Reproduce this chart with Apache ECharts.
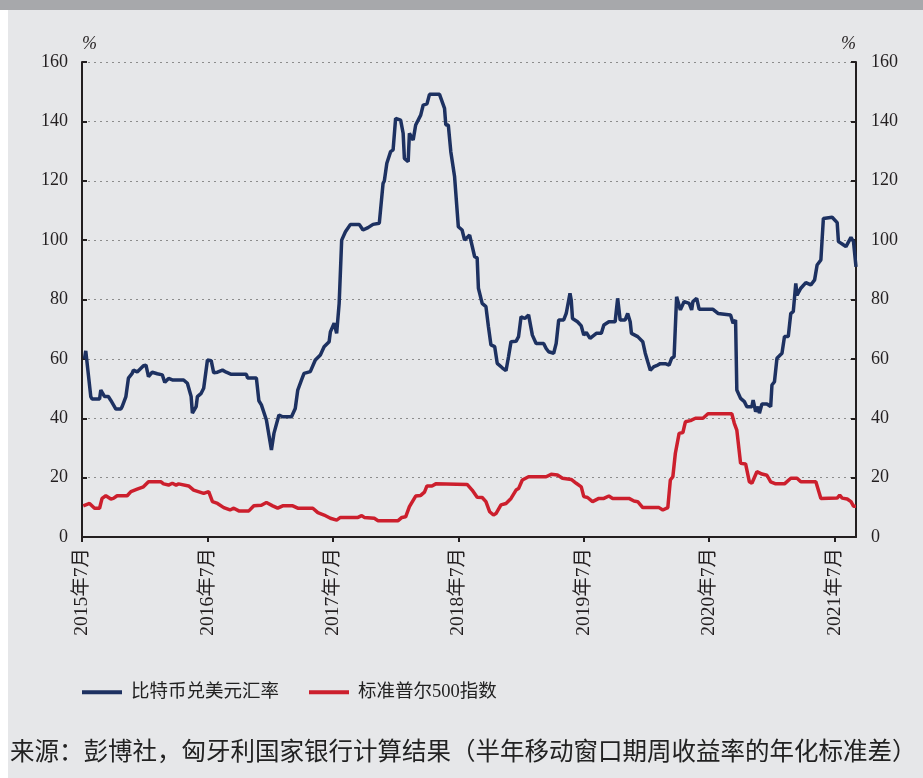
<!DOCTYPE html>
<html>
<head>
<meta charset="utf-8">
<script src="https://cdn.jsdelivr.net/npm/echarts@6/dist/echarts.min.js"></script>
<style>
  html, body { margin: 0; padding: 0; background: #fff; }
  #chart { width: 923px; height: 778px; }
</style>
</head>
<body>
<div id="chart"></div>
<script>
// x values: years after 2015年7月
var btcT = [0.02, 0.03, 0.07, 0.08, 0.14, 0.15, 0.18, 0.21, 0.23, 0.27, 0.31, 0.32, 0.35, 0.37, 0.40, 0.41, 0.44, 0.49, 0.51, 0.53,
    0.56, 0.60, 0.64, 0.66, 0.69, 0.72, 0.81, 0.84, 0.87, 0.88, 0.91, 0.92, 0.95, 0.97, 1.00, 1.03, 1.05, 1.08, 1.12, 1.15,
    1.19, 1.31, 1.32, 1.39, 1.41, 1.43, 1.47, 1.51, 1.53, 1.57, 1.60, 1.67, 1.70, 1.72, 1.75, 1.77, 1.82, 1.86, 1.90, 1.93,
    1.97, 1.98, 2.01, 2.03, 2.05, 2.07, 2.10, 2.14, 2.21, 2.24, 2.28, 2.32, 2.37, 2.40, 2.41, 2.43, 2.46, 2.48, 2.50, 2.54,
    2.56, 2.57, 2.60, 2.61, 2.64, 2.66, 2.70, 2.72, 2.75, 2.77, 2.85, 2.89, 2.90, 2.92, 2.94, 2.97, 3.00, 3.03, 3.05, 3.09,
    3.13, 3.15, 3.16, 3.19, 3.22, 3.24, 3.26, 3.29, 3.31, 3.35, 3.38, 3.40, 3.42, 3.46, 3.48, 3.50, 3.53, 3.56, 3.59, 3.62,
    3.68, 3.70, 3.72, 3.76, 3.78, 3.80, 3.84, 3.86, 3.89, 3.90, 3.91, 3.95, 3.98, 4.00, 4.02, 4.05, 4.10, 4.14, 4.16, 4.20,
    4.25, 4.27, 4.29, 4.33, 4.35, 4.37, 4.38, 4.43, 4.47, 4.49, 4.51, 4.53, 4.56, 4.59, 4.61, 4.65, 4.68, 4.70, 4.72, 4.74,
    4.77, 4.80, 4.84, 4.86, 4.87, 4.90, 4.92, 5.03, 5.07, 5.17, 5.19, 5.21, 5.22, 5.25, 5.28, 5.30, 5.34, 5.35, 5.37, 5.39,
    5.40, 5.42, 5.46, 5.49, 5.50, 5.52, 5.54, 5.58, 5.60, 5.63, 5.65, 5.67, 5.69, 5.70, 5.73, 5.77, 5.81, 5.84, 5.86, 5.89,
    5.91, 5.98, 6.02, 6.03, 6.06, 6.09, 6.13, 6.15, 6.17];
var btcVol = [60, 62.7, 47.3, 46.5, 46.5, 49.5, 47.3, 47.3, 46, 43.1, 43.1, 43.9, 47.3, 53.5, 55.1, 56.2, 55.6, 57.7, 57.9, 54,
    55.5, 55, 54.6, 52.1, 53.4, 52.9, 52.9, 51.8, 47.3, 41.7, 43.9, 47.3, 48.4, 50.1, 59.6, 59.4, 55.3, 55.5, 56.2, 55.5,
    54.8, 54.8, 53.6, 53.6, 45.9, 44.5, 39.4, 29.3, 34.9, 41.1, 40.5, 40.5, 43.3, 49.5, 52.9, 55.1, 55.7, 59.6, 61.3, 64.1,
    65.8, 69.1, 72, 68.6, 78.7, 100, 102.8, 105.3, 105.3, 103.4, 104.2, 105.3, 105.7, 119.1, 119.9, 125.9, 129.8, 130.4, 141, 140.4,
    136, 127.5, 126.4, 136, 133.7, 138.8, 142.1, 145.5, 145.9, 149.1, 149.1, 144.4, 138.8, 138.8, 129.8, 121.4, 104.5, 103.4, 100, 101.7,
    94.4, 94, 83.8, 78.7, 77.6, 70.8, 64.7, 64.1, 58.5, 57, 56, 60.7, 65.8, 65.9, 67.5, 74.2, 73.6, 74.8, 68, 65.2,
    65.2, 63.5, 62.4, 61.9, 65.2, 73.1, 73.1, 75.3, 82.1, 79.8, 73.6, 72.5, 71.1, 68, 68.9, 66.9, 68.6, 68.6, 71.4, 72.5,
    72.5, 80.4, 73.1, 73.1, 75.3, 72.5, 68.6, 67.5, 65.8, 61.9, 59, 56.2, 57.4, 57.9, 58.4, 58.4, 57.9, 60.2, 60.7, 80.9,
    76.5, 79.3, 78.7, 76.5, 79.3, 80.4, 76.7, 76.7, 75.3, 74.8, 72, 73.1, 49.5, 46.7, 45.6, 43.9, 43.9, 46.1, 42.2, 43.9,
    41.7, 44.8, 44.8, 43.9, 51.2, 52.3, 60.2, 61.9, 67.5, 67.5, 75.3, 75.9, 85.4, 81.5, 83.8, 85.7, 84.9, 86.6, 91.6, 93.3,
    107.3, 107.7, 105.9, 99.5, 98.7, 97.8, 100.9, 99.5, 91];

var spxT = [0.01, 0.06, 0.10, 0.14, 0.16, 0.19, 0.23, 0.25, 0.28, 0.36, 0.39, 0.44, 0.49, 0.53, 0.63, 0.65, 0.69, 0.72, 0.75, 0.77,
    0.85, 0.89, 0.97, 1.01, 1.04, 1.08, 1.13, 1.18, 1.21, 1.25, 1.33, 1.37, 1.43, 1.47, 1.52, 1.56, 1.60, 1.68, 1.72, 1.84,
    1.88, 1.93, 1.98, 2.03, 2.06, 2.20, 2.23, 2.25, 2.33, 2.36, 2.52, 2.55, 2.58, 2.61, 2.66, 2.70, 2.73, 2.75, 2.79, 2.82,
    3.07, 3.11, 3.15, 3.19, 3.22, 3.25, 3.28, 3.30, 3.34, 3.38, 3.42, 3.46, 3.48, 3.51, 3.56, 3.70, 3.74, 3.79, 3.83, 3.90,
    3.94, 3.98, 4.00, 4.03, 4.07, 4.12, 4.16, 4.20, 4.23, 4.36, 4.40, 4.43, 4.47, 4.60, 4.63, 4.67, 4.69, 4.71, 4.73, 4.76,
    4.79, 4.81, 4.85, 4.89, 4.95, 4.99, 5.18, 5.20, 5.22, 5.25, 5.29, 5.32, 5.34, 5.38, 5.42, 5.46, 5.49, 5.53, 5.60, 5.65,
    5.70, 5.73, 5.85, 5.89, 6.02, 6.04, 6.06, 6.10, 6.13, 6.15, 6.17];
var spxVol = [10.5, 11.3, 9.7, 9.7, 13, 13.9, 12.8, 13, 13.9, 13.9, 15.3, 16.1, 16.9, 18.6, 18.6, 17.9, 17.5, 18.1, 17.5, 17.9,
    17.2, 15.8, 14.7, 15.3, 11.9, 11.3, 9.9, 9.1, 9.7, 8.8, 8.8, 10.5, 10.7, 11.6, 10.5, 9.7, 10.5, 10.5, 9.7, 9.7,
    8.2, 7.4, 6.3, 5.7, 6.6, 6.6, 7.2, 6.6, 6.3, 5.5, 5.5, 6.6, 6.8, 10.2, 13.8, 14, 15.1, 17.2, 17.2, 17.9,
    17.7, 15.8, 13.4, 13.3, 11.9, 8.5, 7.4, 7.9, 10.8, 11.3, 13, 15.8, 16.3, 19.2, 20.3, 20.3, 21.1, 20.9, 19.8, 19.4,
    18.1, 16.9, 13.6, 13.3, 11.9, 13, 13, 13.8, 13, 13, 12.1, 11.9, 9.9, 9.9, 9.1, 9.9, 19.2, 20.3, 28.2, 34.9,
    35.2, 38.8, 39.2, 40, 40, 41.5, 41.5, 38.3, 36, 24.8, 24.6, 18.6, 18.1, 22, 21.2, 20.8, 18.6, 17.9, 17.9, 19.8,
    19.8, 18.6, 18.6, 13, 13.1, 14.1, 13.1, 12.8, 11.9, 10.4, 10.4];

var seriesNames = ['比特币兑美元汇率', '标准普尔500指数'];
var source = '来源：彭博社，匈牙利国家银行计算结果（半年移动窗口期周收益率的年化标准差）';
var startYear = 2015;
var endT = 6.17;

function pairs(xs, ys) {
    var out = [];
    for (var i = 0; i < xs.length; i++) out.push([xs[i], ys[i]]);
    return out;
}

var FONT = '"Liberation Serif", "Noto Sans CJK SC", serif';
var INK = '#231f20';

var yAxisBase = function (pos) {
    return {
        type: 'value',
        position: pos,
        min: 0,
        max: 160,
        interval: 20,
        name: '%',
        nameLocation: 'end',
        nameGap: 9,
        nameTextStyle: {
            fontFamily: FONT, fontSize: 18, fontStyle: 'italic', color: INK,
            align: pos == 'left' ? 'left' : 'right'
        },
        axisLine: { show: true, lineStyle: { color: INK, width: 2 } },
        axisTick: { show: true, inside: true, length: 5, lineStyle: { color: INK, width: 2 } },
        axisLabel: { fontFamily: FONT, fontSize: 18, color: INK, margin: pos == 'left' ? 14 : 15 },
        splitLine: {
            show: pos == 'left',
            lineStyle: { color: '#8c8c8c', type: [2, 4], width: 1.2 }
        }
    };
};

var chart = echarts.init(document.getElementById('chart'));
chart.setOption({
    animation: false,
    backgroundColor: '#e6e7e9',
    graphic: [
        { type: 'rect', shape: { x: 0, y: 0, width: 8, height: 778 }, style: { fill: '#ffffff' } },
        { type: 'rect', shape: { x: 0, y: 0, width: 923, height: 10 }, style: { fill: '#a7a8ab' } }
    ],
    title: {
        text: source,
        left: 5,
        top: 736,
        textStyle: { fontFamily: FONT, fontSize: 24.5, fontWeight: 'normal', color: '#222' }
    },
    legend: {
        left: 82,
        top: 683,
        padding: 0,
        itemWidth: 40,
        itemHeight: 4,
        itemGap: 30,
        icon: 'rect',
        textStyle: { fontFamily: FONT, fontSize: 18.5, color: '#222', padding: [0, 0, 0, 4] },
        data: seriesNames
    },
    grid: { left: 82, right: 67, top: 62, bottom: 241 },
    xAxis: {
        type: 'value',
        min: 0,
        max: endT,
        interval: 1,
        axisLine: { lineStyle: { color: INK, width: 2 } },
        axisTick: { show: true, length: 5, lineStyle: { color: INK, width: 2 } },
        axisLabel: {
            rotate: 90,
            margin: 11,
            showMaxLabel: false,
            fontFamily: FONT,
            fontSize: 19.5,
            color: INK,
            formatter: function (v) { return (startYear + Math.round(v)) + '年7月'; }
        },
        splitLine: { show: false }
    },
    yAxis: [yAxisBase('left'), yAxisBase('right')],
    series: [
        {
            name: seriesNames[0],
            type: 'line',
            showSymbol: false,
            color: '#1d3161',
            lineStyle: { width: 3.5, color: '#1d3161' },
            data: pairs(btcT, btcVol)
        },
        {
            name: seriesNames[1],
            type: 'line',
            showSymbol: false,
            color: '#cc1f2d',
            lineStyle: { width: 3.5, color: '#cc1f2d' },
            data: pairs(spxT, spxVol)
        }
    ]
});
</script>
</body>
</html>
